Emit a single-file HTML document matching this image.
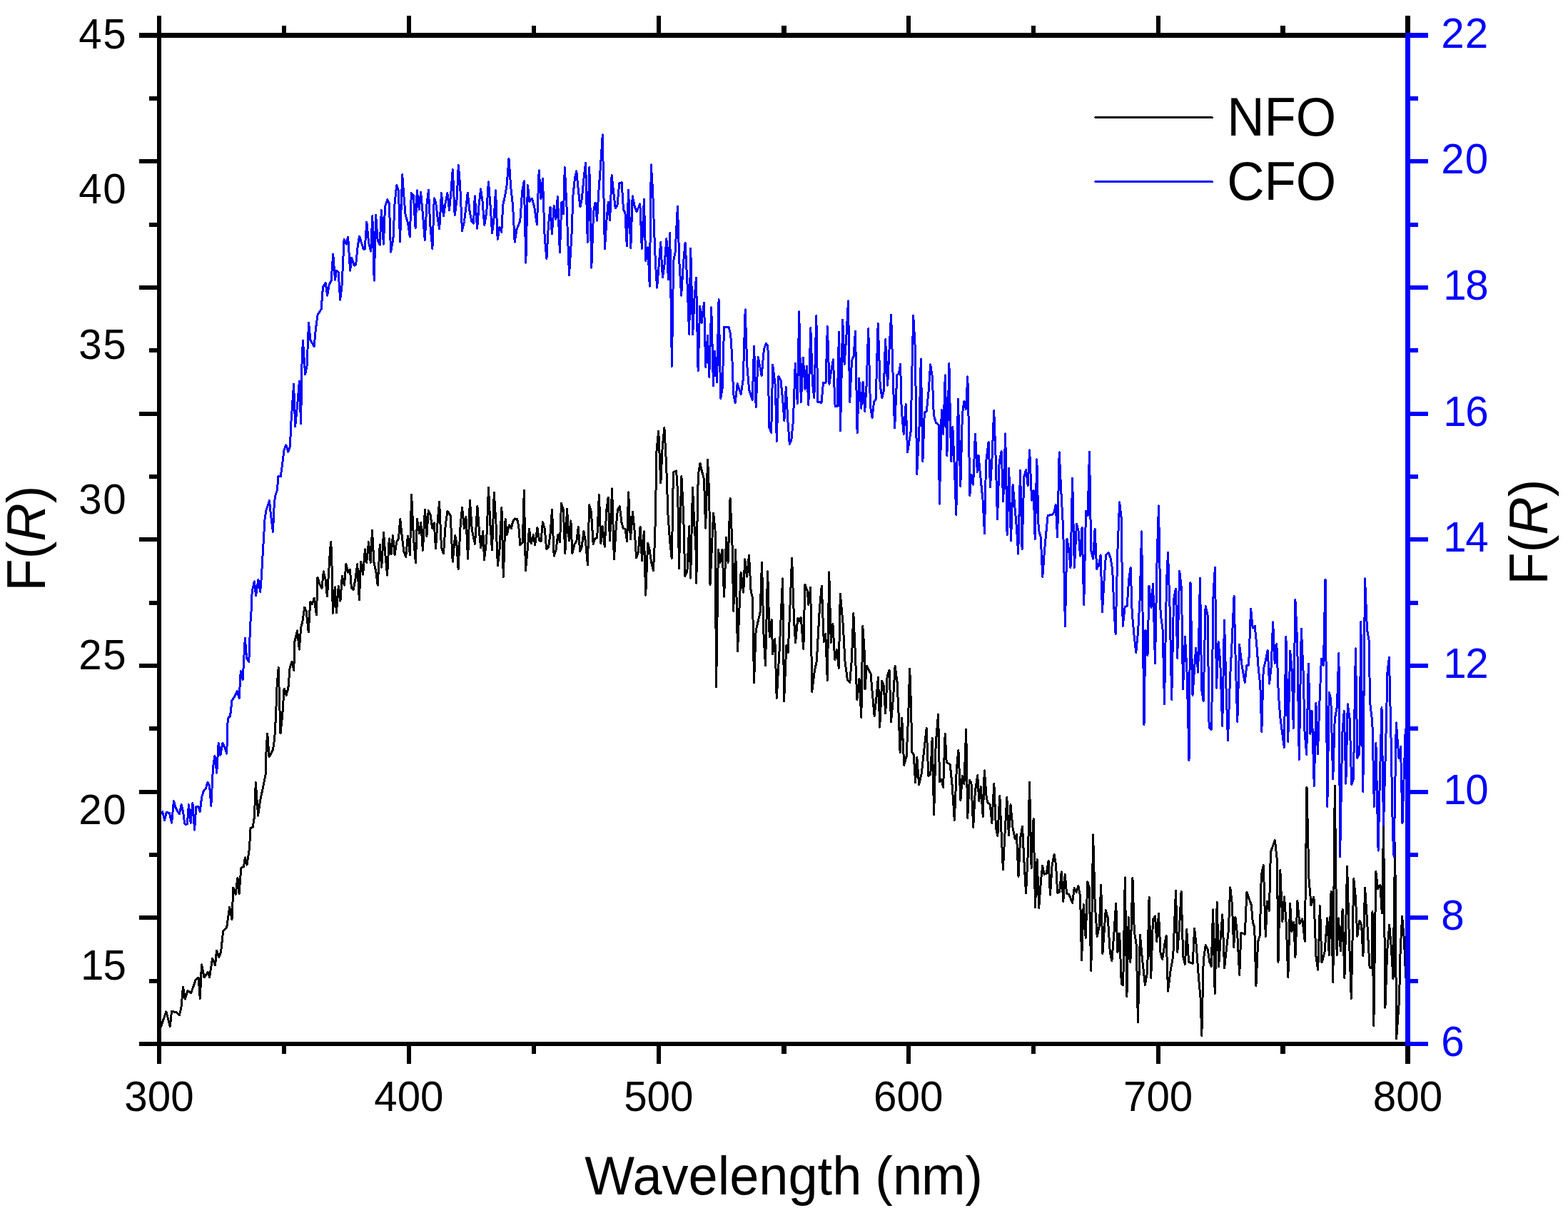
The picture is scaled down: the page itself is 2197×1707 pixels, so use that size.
<!DOCTYPE html>
<html lang="en">
<head>
<meta charset="utf-8">
<title>F(R) vs Wavelength</title>
<style>
html,body{margin:0;padding:0;background:#fff;}
body{width:2197px;height:1707px;overflow:hidden;}
svg{display:block;}
</style>
</head>
<body>
<svg width="2197" height="1707" viewBox="0 0 2197 1707" role="img" aria-label="F(R) versus wavelength for NFO and CFO">
<rect x="0" y="0" width="2197" height="1707" fill="#fff"/>
<polyline points="222.6,1447.1 232.8,1417.9 238.3,1438.5 240.5,1417.2 247.4,1419.0 251.4,1422.6 253.8,1413.0 256.5,1383.2 259.3,1400.2 262.9,1388.7 267.9,1391.6 273.9,1373.7 278.1,1370.0 280.3,1399.3 282.5,1351.8 286.1,1370.0 291.2,1362.7 293.6,1369.7 297.6,1343.2 301.6,1352.7 303.5,1332.1 306.8,1341.7 309.5,1334.4 312.8,1304.3 317.7,1299.7 321.7,1271.1 325.0,1288.8 326.8,1244.0 330.1,1253.2 332.9,1230.3 335.1,1252.8 337.8,1216.3 341.5,1214.8 343.3,1202.0 346.0,1212.1 349.3,1190.1 351.1,1160.9 351.0,1160.5 354.2,1159.5 356.4,1144.9 358.3,1096.5 361.6,1143.1 364.7,1121.2 368.3,1104.7 372.0,1086.5 373.2,1048.1 374.7,1028.0 377.1,1060.9 382.4,1050.9 384.7,1035.3 386.6,1002.5 387.9,964.1 390.2,935.8 393.0,1028.0 395.7,1002.5 398.1,965.0 401.2,974.2 403.9,964.1 406.1,935.8 409.0,927.2 411.8,939.5 412.7,899.8 416.6,884.0 419.3,910.1 421.7,879.2 423.7,872.3 425.1,862.7 426.8,851.0 429.2,857.2 432.3,886.0 434.7,843.5 437.5,846.9 440.2,838.0 443.4,862.0 445.0,809.1 447.8,818.7 450.9,824.9 453.3,800.9 456.0,811.9 458.4,835.9 460.8,799.5 462.5,770.7 463.8,759.7 465.2,798.1 466.3,859.3 469.3,822.9 471.4,858.6 474.3,821.5 476.9,842.1 479.4,807.1 482.4,820.1 484.9,790.6 487.6,802.3 490.4,798.1 492.4,824.2 495.2,826.3 497.9,811.9 500.7,790.6 503.4,840.7 505.5,787.1 508.6,805.0 511.4,770.0 513.7,788.5 516.5,759.7 519.2,788.5 521.5,743.5 524.0,788.5 526.8,800.9 529.2,820.1 532.3,763.1 534.7,795.1 537.5,746.6 539.8,776.2 542.6,806.1 545.3,754.9 548.0,776.8 550.4,750.7 553.1,777.5 555.6,759.7 558.4,754.9 560.8,727.4 563.2,751.4 565.9,773.4 568.7,780.3 571.4,751.2 574.4,777.5 576.6,693.5 579.6,755.5 582.4,788.5 584.5,727.4 587.5,747.3 589.7,732.5 592.4,771.3 595.4,714.3 597.9,751.4 600.2,715.7 603.0,721.2 605.7,740.4 608.2,732.9 610.5,768.6 613.0,732.9 615.6,703.6 618.5,767.9 621.5,775.5 624.3,734.9 627.0,716.4 631.2,722.6 634.2,787.1 637.6,750.7 639.7,759.7 642.1,797.4 645.2,735.6 647.6,711.3 650.4,740.4 652.9,724.6 655.6,783.3 658.4,701.3 661.4,743.2 665.5,762.4 668.9,709.5 671.7,747.3 673.7,767.9 676.8,744.6 678.5,784.4 681.7,757.6 684.5,683.4 686.8,733.6 689.5,770.4 692.3,690.3 695.0,734.3 697.4,792.6 700.1,769.3 702.9,711.6 705.3,808.4 708.1,727.4 710.3,749.6 713.5,735.9 716.5,740.7 718.5,731.0 721.3,726.9 724.5,727.2 726.8,737.9 728.8,764.0 732.3,760.6 734.3,687.1 736.4,799.7 739.1,770.9 741.5,741.3 744.2,762.0 747.4,749.6 749.7,763.7 752.9,739.3 755.6,757.1 758.0,758.8 760.4,731.7 763.2,740.7 765.7,769.5 768.7,766.8 771.2,746.2 773.5,714.6 776.2,779.1 779.0,770.9 781.7,749.6 784.5,759.9 786.5,705.6 789.3,714.6 791.8,775.7 794.5,713.2 797.3,757.8 799.9,729.9 801.9,775.7 805.1,762.6 807.8,758.5 810.3,738.6 812.6,772.9 815.1,766.8 817.9,744.8 820.6,759.9 823.4,791.5 825.7,707.7 828.4,717.3 831.2,762.6 833.9,754.4 836.7,753.7 839.4,693.7 841.9,761.5 844.2,737.2 847.3,766.1 849.7,715.9 852.2,697.0 854.5,757.8 857.6,685.0 860.4,783.9 863.5,735.2 865.5,713.9 868.3,709.8 871.0,732.4 873.4,740.7 876.1,741.3 878.6,758.5 880.6,689.8 883.4,755.5 886.5,717.3 889.3,746.2 891.6,781.9 894.4,773.6 897.1,737.9 899.5,786.0 902.3,744.8 904.7,834.1 907.7,761.3 910.2,770.9 912.6,788.7 915.4,799.7 917.7,754.4 919.1,683.0 919.2,639.9 922.7,604.2 925.8,677.0 928.2,626.2 930.9,599.4 933.7,653.7 936.0,722.4 938.5,756.7 941.2,782.8 942.6,716.9 943.3,661.9 947.4,659.9 948.8,674.3 950.1,714.1 951.5,796.5 953.6,708.6 954.9,667.4 957.7,722.4 959.8,807.5 962.9,800.7 965.7,737.5 967.6,810.3 970.5,683.6 972.8,734.7 974.9,763.6 975.8,817.1 976.9,736.1 978.3,664.7 981.0,649.6 983.8,661.9 986.5,671.5 988.6,740.2 991.6,644.1 993.4,686.6 994.8,755.3 995.0,819.2 999.6,719.1 1002.0,742.1 1003.6,962.5 1006.4,770.1 1009.0,788.2 1012.0,770.1 1014.6,836.3 1017.6,753.1 1020.1,788.2 1023.1,698.0 1026.1,766.1 1027.7,856.3 1030.7,770.1 1033.5,912.4 1038.1,802.2 1041.7,830.3 1043.7,783.8 1046.5,808.2 1049.5,778.2 1052.1,828.2 1054.5,838.3 1056.5,956.5 1059.1,884.3 1065.1,858.3 1067.5,788.2 1070.1,892.4 1072.5,932.4 1075.6,800.8 1078.2,892.4 1081.2,868.3 1082.6,916.4 1085.8,895.4 1088.2,978.5 1092.2,910.4 1096.6,810.8 1098.6,982.5 1101.8,904.4 1104.2,914.4 1106.6,858.3 1109.6,782.2 1112.6,870.3 1114.6,900.4 1117.8,866.3 1120.2,870.3 1122.2,865.3 1125.8,909.4 1127.8,819.2 1131.3,828.2 1132.9,847.3 1135.7,823.2 1137.7,969.5 1141.3,940.5 1144.3,926.4 1148.3,854.3 1151.3,821.2 1154.3,899.4 1156.7,888.4 1159.3,953.5 1161.7,801.8 1164.3,900.4 1166.9,874.3 1169.7,924.4 1172.3,910.4 1175.3,936.4 1177.3,832.3 1181.3,876.3 1183.9,926.4 1187.4,952.5 1190.8,956.5 1193.4,924.4 1195.8,859.3 1198.4,916.4 1200.8,980.5 1204.0,951.5 1206.8,1005.6 1208.8,877.3 1211.0,910.0 1212.0,966.1 1214.4,933.1 1220.0,944.1 1223.1,980.2 1225.1,1003.2 1228.1,976.2 1230.5,949.1 1232.7,1019.2 1235.7,954.1 1238.1,960.1 1240.7,999.8 1243.1,948.1 1246.1,939.1 1248.5,1011.8 1251.7,976.2 1254.1,933.1 1257.1,956.1 1259.5,1010.2 1261.1,1054.7 1263.7,1006.2 1266.7,1072.3 1270.1,1060.3 1272.7,1002.2 1274.7,937.1 1276.7,994.2 1277.7,1054.3 1280.2,1057.3 1282.6,1096.4 1284.8,1061.3 1287.6,1099.4 1291.2,1084.3 1294.2,1056.3 1298.2,1020.2 1300.8,1087.4 1303.8,1085.4 1306.2,1034.3 1308.6,1141.5 1311.2,1042.3 1314.6,1001.2 1316.6,1095.4 1319.2,1092.4 1321.6,1103.4 1324.2,1028.2 1326.2,1068.3 1331.2,1071.3 1334.3,1102.4 1337.3,1149.5 1340.3,1078.3 1342.9,1051.3 1345.9,1121.4 1348.3,1087.4 1350.9,1098.4 1353.7,1022.2 1355.7,1146.5 1358.3,1093.4 1360.9,1096.4 1363.7,1159.5 1366.3,1109.4 1369.7,1086.4 1371.7,1122.4 1374.3,1102.4 1377.3,1144.5 1379.3,1079.9 1382.3,1118.4 1384.3,1125.4 1387.3,1127.4 1389.8,1153.5 1392.8,1098.4 1395.4,1159.5 1397.8,1171.5 1400.8,1115.4 1403.4,1174.5 1405.4,1218.6 1407.8,1171.5 1410.8,1117.4 1413.4,1170.5 1416.0,1127.7 1419.0,1160.2 1422.0,1175.2 1424.4,1169.2 1427.0,1228.3 1429.7,1174.2 1432.5,1158.2 1435.1,1210.3 1437.5,1251.9 1440.7,1188.2 1442.5,1096.1 1445.1,1216.3 1448.1,1147.2 1450.5,1271.4 1453.1,1204.3 1455.7,1272.4 1458.5,1234.3 1460.7,1213.3 1463.1,1225.3 1466.1,1224.3 1469.1,1206.3 1471.5,1254.3 1474.1,1212.3 1477.1,1197.2 1479.5,1212.3 1481.7,1251.3 1484.6,1250.3 1487.2,1221.9 1489.8,1263.4 1492.2,1225.3 1494.6,1252.3 1497.6,1253.3 1502.6,1265.4 1505.2,1244.3 1508.2,1250.3 1510.8,1241.3 1513.6,1256.4 1515.6,1345.5 1518.2,1267.4 1521.2,1314.5 1523.8,1235.9 1526.2,1244.3 1528.8,1360.5 1531.6,1169.8 1534.2,1266.4 1537.2,1312.5 1540.3,1298.4 1542.7,1240.3 1544.9,1336.5 1549.3,1275.4 1552.3,1286.4 1555.3,1334.5 1557.9,1346.5 1560.7,1310.5 1563.7,1266.4 1565.9,1334.5 1568.7,1308.4 1571.3,1378.6 1573.7,1380.6 1576.3,1229.9 1578.9,1396.6 1581.3,1285.4 1583.9,1348.5 1586.9,1229.9 1589.3,1305.4 1592.3,1324.5 1594.4,1432.5 1597.4,1310.3 1600.0,1339.4 1604.4,1380.5 1607.6,1362.4 1610.1,1257.2 1612.7,1370.4 1615.5,1288.3 1618.5,1283.9 1620.7,1319.3 1623.5,1280.3 1626.1,1336.4 1628.7,1344.4 1631.5,1325.4 1634.1,1311.3 1636.5,1389.1 1640.1,1360.4 1643.7,1340.4 1647.5,1248.2 1649.7,1334.4 1652.5,1300.3 1655.1,1249.8 1657.7,1340.4 1660.5,1351.4 1662.7,1302.7 1665.6,1348.4 1671.2,1350.4 1673.6,1301.3 1676.2,1324.3 1679.2,1366.4 1682.2,1400.5 1683.8,1451.6 1686.2,1346.4 1689.2,1324.3 1692.2,1330.4 1694.6,1347.4 1697.2,1354.4 1699.6,1274.7 1702.2,1392.9 1705.2,1264.6 1707.6,1354.4 1710.2,1314.3 1712.8,1281.9 1715.6,1356.8 1718.6,1328.4 1721.3,1304.3 1723.7,1243.8 1726.3,1266.2 1728.7,1327.4 1730.9,1285.3 1733.9,1312.3 1736.7,1366.4 1738.9,1307.3 1744.3,1309.3 1746.9,1250.2 1750.3,1260.2 1753.3,1268.2 1755.3,1292.3 1757.7,1299.3 1759.9,1381.5 1762.7,1319.3 1765.3,1311.3 1767.3,1226.2 1770.3,1212.5 1773.3,1312.3 1775.4,1263.2 1778.4,1276.3 1780.4,1194.1 1786.4,1177.7 1789.4,1206.1 1791.0,1348.4 1793.8,1219.2 1796.8,1291.3 1799.5,1257.0 1802.3,1296.1 1804.8,1369.7 1807.6,1266.2 1809.9,1305.3 1812.9,1292.6 1814.9,1342.1 1817.9,1262.8 1820.9,1294.9 1824.8,1288.0 1828.3,1319.1 1831.0,1103.0 1834.0,1231.7 1837.0,1268.5 1840.9,1257.0 1843.9,1339.8 1846.7,1359.3 1849.4,1269.7 1852.0,1349.0 1855.9,1335.2 1859.8,1286.9 1862.3,1338.6 1865.1,1249.0 1867.8,1376.6 1870.3,1101.1 1873.1,1338.6 1875.4,1286.9 1878.4,1332.9 1881.1,1274.3 1883.9,1370.8 1887.6,1214.5 1890.3,1312.2 1893.3,1399.5 1896.8,1231.7 1899.5,1259.3 1901.8,1312.2 1904.8,1290.3 1907.6,1296.1 1909.9,1339.8 1912.6,1244.4 1915.6,1291.5 1919.1,1355.9 1922.1,1357.0 1923.0,1277.7 1924.8,1437.5 1927.8,1221.4 1930.6,1245.5 1934.0,1240.9 1936.3,1280.0 1938.6,1158.2 1940.9,1412.2 1943.7,1332.9 1946.7,1296.1 1949.7,1332.9 1952.0,1372.0 1954.7,1181.1 1956.6,1455.9 1960.5,1401.8 1962.1,1332.9 1964.6,1284.6 1967.4,1316.8 1969.7,1369.7" fill="none" stroke="#000" stroke-width="3" stroke-linejoin="round" stroke-linecap="round" shape-rendering="crispEdges"/>
<polyline points="224.0,1142.2 227.7,1137.6 230.6,1149.5 233.2,1138.5 237.4,1139.5 240.6,1153.2 243.4,1122.6 246.5,1133.1 251.4,1140.9 254.2,1127.6 256.5,1137.6 258.9,1155.0 262.4,1155.0 264.4,1127.6 267.1,1153.2 269.9,1125.4 272.6,1163.2 274.8,1130.3 278.1,1130.7 280.3,1137.3 282.6,1117.5 285.4,1108.4 288.5,1104.7 290.9,1096.5 293.6,1101.1 295.8,1129.4 298.5,1075.5 300.9,1059.1 303.7,1083.2 306.2,1041.2 308.9,1058.2 311.9,1041.4 315.0,1048.1 317.7,1056.3 319.2,1007.0 322.6,1003.4 325.0,981.5 329.0,976.0 332.3,968.7 335.1,978.4 337.3,940.4 340.2,952.2 343.3,894.3 345.7,923.0 348.8,927.6 350.6,876.4 351.9,859.5 353.2,828.5 356.4,814.8 358.6,834.9 361.9,812.1 364.7,829.4 366.5,806.6 367.8,782.8 369.2,759.1 371.1,726.2 372.9,715.3 377.4,701.6 379.8,724.4 382.4,745.4 384.4,704.3 385.7,695.2 388.4,686.9 389.9,667.8 393.3,667.8 395.7,649.5 398.1,630.3 400.8,623.9 403.9,633.1 406.1,626.7 407.6,602.9 408.0,590.5 409.4,570.5 411.6,538.4 413.6,597.6 416.4,570.5 419.4,534.4 421.6,593.5 423.0,510.4 424.4,477.3 427.6,524.4 430.1,512.4 432.5,452.3 435.1,477.3 440.1,485.4 442.5,460.3 445.1,441.3 450.1,433.3 452.5,402.2 456.1,396.2 458.7,414.2 461.1,399.2 464.1,393.2 466.7,356.1 469.5,392.2 471.5,379.2 474.1,381.2 476.7,420.2 479.1,399.2 480.7,366.1 482.1,335.1 485.2,342.1 487.6,332.1 490.6,379.2 492.6,361.1 496.2,372.1 498.6,371.1 501.2,345.1 503.6,331.1 509.2,349.1 511.2,349.1 513.8,311.0 516.6,340.1 519.6,352.1 521.8,302.4 524.2,393.2 526.6,301.0 529.2,337.1 532.2,343.1 534.4,294.7 537.4,342.1 539.5,289.9 542.7,279.6 545.4,285.1 547.5,353.1 550.9,335.2 553.0,285.8 555.7,259.7 558.5,267.9 560.5,338.7 563.7,244.6 566.0,276.2 568.1,300.9 571.5,312.6 574.3,331.8 576.3,270.7 579.3,273.4 582.1,319.8 584.3,266.8 587.3,293.3 589.6,269.6 592.1,296.8 595.3,336.6 598.0,285.8 600.4,266.5 602.8,316.0 605.9,348.7 608.3,277.8 610.7,284.4 613.4,307.1 615.7,320.8 618.5,270.7 621.4,302.9 624.1,284.4 626.9,270.7 629.5,294.7 632.0,267.9 634.3,237.7 637.2,301.8 640.2,278.9 642.3,231.5 644.7,261.0 647.5,323.5 650.5,310.5 653.0,289.9 655.3,270.0 658.0,295.4 660.8,310.5 663.5,313.0 665.3,274.8 668.6,320.1 671.1,287.1 673.6,264.8 675.9,281.0 678.7,315.3 681.8,296.8 684.4,254.9 686.9,285.8 689.6,327.0 692.4,302.3 694.5,266.8 697.2,335.9 699.9,318.0 702.7,325.6 704.8,287.1 707.5,274.8 710.2,259.0 713.0,222.6 715.7,262.4 718.5,287.1 721.2,339.1 724.0,321.5 728.8,309.8 731.5,269.3 734.3,253.8 736.8,368.2 739.4,259.7 741.8,282.3 745.3,278.2 748.7,289.9 752.4,314.9 755.2,238.8 757.9,278.9 760.4,250.1 763.1,331.1 765.9,363.0 768.4,316.0 771.0,289.9 773.4,327.7 776.2,288.8 778.9,307.1 781.4,275.7 784.4,353.8 786.9,283.0 789.5,299.5 791.3,234.7 794.0,289.9 797.5,385.4 800.9,331.1 803.0,273.4 805.4,250.1 807.8,239.8 810.2,265.2 812.9,289.9 815.3,278.9 818.1,248.7 820.6,228.1 823.3,339.3 825.8,234.3 828.8,375.1 831.6,296.8 834.0,284.4 836.5,309.1 838.8,269.3 841.3,234.9 844.3,188.9 847.4,349.0 849.8,310.5 852.3,283.0 854.6,308.4 857.1,245.7 859.7,269.3 862.2,292.0 864.9,288.5 867.7,256.9 871.1,255.5 873.5,293.3 875.9,298.1 878.3,344.8 880.5,266.5 883.8,347.6 886.2,274.8 889.0,288.5 892.0,296.8 896.8,285.8 899.3,348.3 902.4,279.6 904.8,365.4 907.9,346.9 910.3,401.2 912.3,230.8 914.7,269.3 916.5,320.1 918.5,369.6 920.6,403.2 923.3,370.9 925.7,339.6 928.4,388.8 930.9,372.3 933.9,334.5 936.4,391.5 938.7,326.7 941.4,513.3 943.6,366.1 946.0,354.1 949.4,289.5 952.0,370.1 954.6,414.2 957.4,370.1 960.1,340.0 963.1,400.1 965.7,468.3 967.7,348.1 970.7,468.7 973.1,416.2 975.5,389.1 978.1,519.4 980.7,429.2 983.1,452.2 986.5,424.2 988.7,514.3 991.5,470.3 993.7,528.4 996.7,430.8 999.5,540.4 1001.5,492.3 1004.5,535.4 1007.1,419.8 1009.7,558.4 1012.1,544.4 1014.6,458.2 1021.2,458.6 1023.6,468.3 1025.8,500.3 1027.6,552.4 1030.2,564.4 1033.2,537.4 1038.2,552.4 1041.2,532.4 1044.2,433.8 1046.8,512.3 1049.6,546.4 1054.2,560.4 1056.6,485.3 1059.2,570.5 1062.2,500.3 1067.2,526.4 1070.3,490.3 1073.3,481.3 1075.9,484.3 1077.7,598.5 1080.7,606.5 1082.7,511.3 1086.3,540.4 1088.3,618.5 1090.9,527.4 1093.9,532.4 1096.7,560.4 1098.9,589.5 1101.3,542.4 1103.9,590.5 1106.3,622.5 1108.9,616.5 1111.3,590.5 1112.7,554.4 1114.3,509.3 1117.3,565.4 1119.7,436.8 1122.3,563.4 1125.4,501.3 1128.0,545.4 1130.4,513.3 1132.8,567.4 1135.8,459.3 1138.4,536.4 1140.8,557.4 1143.8,442.6 1145.8,563.4 1146.0,563.3 1151.0,564.3 1153.6,536.2 1157.0,536.2 1159.4,457.7 1162.0,538.2 1164.6,520.2 1167.4,503.8 1170.1,569.3 1173.1,569.3 1175.5,465.1 1177.5,603.4 1180.7,448.1 1183.1,510.2 1185.7,475.1 1188.5,422.0 1190.7,563.3 1193.5,505.2 1196.1,499.2 1198.5,464.1 1201.1,606.4 1203.7,530.2 1206.7,572.3 1209.1,535.2 1211.7,576.3 1214.1,540.3 1216.7,460.7 1219.5,570.3 1222.1,585.3 1224.6,563.3 1227.2,559.3 1230.2,453.1 1233.2,540.3 1235.8,557.3 1238.2,548.3 1240.6,475.7 1243.6,540.3 1246.2,486.2 1248.6,441.1 1251.2,528.2 1253.6,600.0 1256.8,526.2 1259.6,522.2 1261.6,510.2 1263.2,574.3 1266.2,608.4 1269.2,566.3 1271.6,633.4 1276.2,604.4 1277.6,530.2 1279.7,442.1 1282.3,488.2 1284.7,664.5 1287.9,602.4 1290.3,503.2 1292.9,646.4 1295.3,578.3 1298.3,576.3 1300.9,550.3 1303.7,510.8 1306.3,528.2 1308.3,581.3 1311.3,592.3 1315.3,595.4 1316.3,706.2 1319.3,574.3 1321.7,608.4 1324.3,525.8 1326.9,638.4 1329.9,509.8 1332.7,646.4 1334.8,598.4 1337.4,656.5 1339.8,721.6 1342.4,559.3 1345.8,681.5 1348.4,580.3 1350.8,562.3 1353.4,573.3 1355.8,527.8 1357.4,600.4 1358.8,694.5 1361.0,665.3 1363.6,679.3 1366.4,608.2 1369.4,661.3 1371.0,638.2 1374.0,670.3 1377.0,700.3 1379.5,747.4 1381.5,648.2 1385.1,619.8 1387.5,682.7 1390.1,640.2 1392.7,575.7 1395.1,640.2 1397.5,727.4 1400.1,648.2 1403.1,632.2 1405.7,702.7 1408.7,607.8 1411.1,750.0 1413.7,656.2 1416.5,757.4 1419.1,678.9 1421.7,708.3 1424.5,740.4 1426.7,776.1 1429.5,659.3 1432.1,770.1 1434.8,668.3 1437.6,658.6 1440.2,680.3 1442.6,630.8 1445.6,701.3 1448.2,687.3 1450.2,755.4 1452.8,643.8 1455.2,742.4 1458.2,752.4 1460.8,808.5 1463.6,770.5 1466.2,742.4 1468.2,722.4 1474.2,721.4 1477.2,717.4 1479.2,707.3 1481.6,752.8 1484.2,633.8 1487.2,696.3 1489.7,741.4 1490.9,796.5 1492.4,877.5 1495.0,755.3 1497.6,770.3 1500.0,795.4 1502.6,670.1 1505.4,795.4 1508.5,734.2 1511.1,744.3 1513.5,779.3 1516.1,739.3 1518.7,847.4 1521.5,716.2 1524.1,722.2 1526.5,633.1 1528.7,771.3 1531.7,783.3 1534.1,741.3 1536.7,797.4 1539.5,792.3 1542.1,777.9 1544.5,857.5 1547.1,812.4 1549.5,778.3 1553.1,774.3 1556.1,782.3 1558.7,798.4 1561.1,856.5 1563.1,888.5 1565.8,774.3 1568.6,703.8 1571.2,726.2 1573.2,877.5 1576.2,850.5 1579.2,849.4 1581.6,813.4 1584.2,795.4 1586.2,858.5 1589.2,892.5 1591.8,914.6 1594.6,884.5 1597.2,838.4 1599.6,744.7 1603.0,1015.6 1605.0,883.3 1608.0,918.4 1610.0,821.2 1613.0,851.3 1615.6,818.2 1618.5,929.4 1621.1,784.2 1623.5,709.0 1626.1,860.3 1629.1,882.3 1631.5,986.5 1634.5,816.2 1636.5,774.5 1639.1,852.3 1641.7,980.5 1644.5,840.3 1647.5,825.2 1649.7,922.4 1652.7,800.2 1655.5,825.2 1657.5,965.5 1660.5,892.3 1663.1,943.4 1665.1,1024.6 1666.0,1065.5 1668.0,816.1 1671.0,974.3 1675.6,908.2 1678.7,942.3 1681.5,810.5 1683.7,966.3 1686.1,982.4 1689.1,849.1 1692.1,862.1 1694.1,1019.4 1697.5,1022.4 1700.1,830.1 1702.5,795.6 1704.5,964.3 1707.1,899.2 1709.7,926.3 1712.7,1017.4 1715.5,869.2 1718.1,968.3 1720.5,1037.5 1723.5,951.3 1726.1,900.2 1729.1,835.1 1731.5,938.3 1733.8,1011.4 1736.6,903.2 1740.2,933.3 1744.2,956.3 1746.8,932.7 1749.6,932.3 1752.6,853.1 1755.2,880.2 1758.2,877.2 1760.8,904.2 1763.2,936.3 1765.8,960.3 1767.8,1025.4 1770.2,938.3 1773.2,926.3 1776.2,911.2 1778.6,958.3 1781.2,934.3 1783.6,871.8 1786.2,929.3 1788.8,902.2 1791.3,972.3 1793.9,1006.4 1799.3,1047.5 1801.9,892.2 1804.7,1039.5 1807.7,912.2 1810.3,940.3 1812.3,1020.4 1814.9,840.1 1817.7,900.2 1820.3,1064.5 1823.3,881.2 1826.3,946.3 1827.9,1023.4 1830.7,1057.5 1833.3,930.3 1835.9,1028.4 1838.3,996.4 1841.3,1101.6 1843.9,985.4 1846.4,1056.5 1849.0,982.4 1851.4,923.3 1854.4,932.3 1857.0,812.1 1859.8,1130.3 1862.3,970.7 1864.8,980.6 1867.7,1092.0 1870.2,1007.8 1873.4,990.5 1875.9,915.0 1877.6,1200.9 1880.8,1027.6 1883.3,996.7 1885.8,1098.2 1888.3,986.8 1891.2,1007.8 1893.7,1099.4 1896.4,1092.0 1899.4,908.8 1901.9,1062.3 1904.9,1056.1 1906.8,871.7 1909.8,1109.3 1912.5,811.0 1915.5,882.8 1918.0,896.4 1919.7,985.5 1922.9,1012.8 1925.4,1130.3 1927.9,1041.2 1931.1,1192.2 1933.6,1082.1 1936.0,991.7 1938.5,1156.3 1941.5,1049.9 1944.0,942.2 1946.4,921.2 1948.9,1027.6 1951.4,1166.2 1953.1,1200.9 1956.3,1012.8 1960.0,1062.3 1962.5,1046.2 1965.0,1153.9 1968.0,1062.3 1969.2,1022.7" fill="none" stroke="#0000ff" stroke-width="3" stroke-linejoin="round" stroke-linecap="round" shape-rendering="crispEdges"/>
<g shape-rendering="crispEdges">
<rect x="220" y="46" width="1756" height="7" fill="#000"/>
<rect x="220" y="1460" width="1756" height="6" fill="#000"/>
<rect x="220" y="22" width="6" height="1469" fill="#000"/>
<rect x="395" y="36" width="6" height="10" fill="#000"/>
<rect x="395" y="1466" width="6" height="11" fill="#000"/>
<rect x="570" y="22" width="6" height="24" fill="#000"/>
<rect x="570" y="1466" width="6" height="25" fill="#000"/>
<rect x="745" y="36" width="6" height="10" fill="#000"/>
<rect x="745" y="1466" width="6" height="11" fill="#000"/>
<rect x="920" y="22" width="6" height="24" fill="#000"/>
<rect x="920" y="1466" width="6" height="25" fill="#000"/>
<rect x="1095" y="36" width="7" height="10" fill="#000"/>
<rect x="1095" y="1466" width="7" height="11" fill="#000"/>
<rect x="1270" y="22" width="6" height="24" fill="#000"/>
<rect x="1270" y="1466" width="6" height="25" fill="#000"/>
<rect x="1445" y="36" width="6" height="10" fill="#000"/>
<rect x="1445" y="1466" width="6" height="11" fill="#000"/>
<rect x="1620" y="22" width="6" height="24" fill="#000"/>
<rect x="1620" y="1466" width="6" height="25" fill="#000"/>
<rect x="1794" y="36" width="7" height="10" fill="#000"/>
<rect x="1794" y="1466" width="7" height="11" fill="#000"/>
<rect x="1969" y="22" width="7" height="24" fill="#000"/>
<rect x="1969" y="1466" width="7" height="25" fill="#000"/>
<rect x="195" y="46" width="25" height="7" fill="#000"/>
<rect x="209" y="135" width="11" height="6" fill="#000"/>
<rect x="195" y="223" width="25" height="6" fill="#000"/>
<rect x="209" y="312" width="11" height="6" fill="#000"/>
<rect x="195" y="400" width="25" height="6" fill="#000"/>
<rect x="209" y="488" width="11" height="6" fill="#000"/>
<rect x="195" y="577" width="25" height="6" fill="#000"/>
<rect x="209" y="665" width="11" height="6" fill="#000"/>
<rect x="195" y="753" width="25" height="6" fill="#000"/>
<rect x="209" y="842" width="11" height="6" fill="#000"/>
<rect x="195" y="930" width="25" height="6" fill="#000"/>
<rect x="209" y="1018" width="11" height="6" fill="#000"/>
<rect x="195" y="1107" width="25" height="6" fill="#000"/>
<rect x="209" y="1195" width="11" height="6" fill="#000"/>
<rect x="195" y="1283" width="25" height="6" fill="#000"/>
<rect x="209" y="1372" width="11" height="6" fill="#000"/>
<rect x="195" y="1460" width="25" height="6" fill="#000"/>
<rect x="1969" y="46" width="7" height="1420" fill="#0000ff"/>
<rect x="1976" y="46" width="25" height="7" fill="#0000ff"/>
<rect x="1976" y="135" width="11" height="6" fill="#0000ff"/>
<rect x="1976" y="223" width="25" height="6" fill="#0000ff"/>
<rect x="1976" y="312" width="11" height="6" fill="#0000ff"/>
<rect x="1976" y="400" width="25" height="6" fill="#0000ff"/>
<rect x="1976" y="488" width="11" height="6" fill="#0000ff"/>
<rect x="1976" y="577" width="25" height="6" fill="#0000ff"/>
<rect x="1976" y="665" width="11" height="6" fill="#0000ff"/>
<rect x="1976" y="753" width="25" height="6" fill="#0000ff"/>
<rect x="1976" y="842" width="11" height="6" fill="#0000ff"/>
<rect x="1976" y="930" width="25" height="6" fill="#0000ff"/>
<rect x="1976" y="1018" width="11" height="6" fill="#0000ff"/>
<rect x="1976" y="1107" width="25" height="6" fill="#0000ff"/>
<rect x="1976" y="1195" width="11" height="6" fill="#0000ff"/>
<rect x="1976" y="1283" width="25" height="6" fill="#0000ff"/>
<rect x="1976" y="1372" width="11" height="6" fill="#0000ff"/>
<rect x="1976" y="1460" width="25" height="6" fill="#0000ff"/>
</g>
<g font-family="'Liberation Sans', Arial, Helvetica, sans-serif">
<text x="223.0" y="1556.6" font-size="58.3" text-anchor="middle">300</text>
<text x="572.9" y="1556.6" font-size="58.3" text-anchor="middle">400</text>
<text x="922.8" y="1556.6" font-size="58.3" text-anchor="middle">500</text>
<text x="1272.7" y="1556.6" font-size="58.3" text-anchor="middle">600</text>
<text x="1622.6" y="1556.6" font-size="58.3" text-anchor="middle">700</text>
<text x="1972.5" y="1556.6" font-size="58.3" text-anchor="middle">800</text>
<text x="178.2" y="67.7" font-size="58.3" text-anchor="end" letter-spacing="1.5">45</text>
<text x="178.2" y="285.2" font-size="58.3" text-anchor="end" letter-spacing="1.5">40</text>
<text x="178.2" y="502.7" font-size="58.3" text-anchor="end" letter-spacing="1.5">35</text>
<text x="178.2" y="720.2" font-size="58.3" text-anchor="end" letter-spacing="1.5">30</text>
<text x="178.2" y="937.7" font-size="58.3" text-anchor="end" letter-spacing="1.5">25</text>
<text x="178.2" y="1155.2" font-size="58.3" text-anchor="end" letter-spacing="1.5">20</text>
<text x="175.4" y="1372.7" dx="3 -2.5" font-size="58.3" text-anchor="end" letter-spacing="1.5">15</text>
<text x="2019.3" y="66.6" font-size="58.3" fill="#0000ff" letter-spacing="1.1">22</text>
<text x="2019.3" y="243.3" font-size="58.3" fill="#0000ff" letter-spacing="1.1">20</text>
<text x="2019.3" y="420.0" dx="3 -2.5" font-size="58.3" fill="#0000ff" letter-spacing="1.1">18</text>
<text x="2019.3" y="596.7" dx="3 -2.5" font-size="58.3" fill="#0000ff" letter-spacing="1.1">16</text>
<text x="2019.3" y="773.4" dx="3 -2.5" font-size="58.3" fill="#0000ff" letter-spacing="1.1">14</text>
<text x="2019.3" y="950.0" dx="3 -2.5" font-size="58.3" fill="#0000ff" letter-spacing="1.1">12</text>
<text x="2019.3" y="1126.7" dx="3 -2.5" font-size="58.3" fill="#0000ff" letter-spacing="1.1">10</text>
<text x="2019.3" y="1303.4" font-size="58.3" fill="#0000ff" letter-spacing="1.1">8</text>
<text x="2019.3" y="1480.1" font-size="58.3" fill="#0000ff" letter-spacing="1.1">6</text>
<text transform="translate(819.3 1674) scale(1.0 1.03)" font-size="74">Wavelength <tspan dx="-1.5 -0.1 -1 -0.4">(nm)</tspan></text>
<text transform="translate(62.8 828.5) rotate(-90) scale(1.0 1.03)" font-size="74">F(<tspan font-style="italic">R</tspan>)</text>
<text transform="translate(2168.2 819.5) rotate(-90) scale(1.0 1.03)" font-size="74">F(<tspan font-style="italic">R</tspan>)</text>
<g shape-rendering="crispEdges">
<rect x="1534" y="163" width="165" height="3" fill="#000"/>
<rect x="1533" y="164" width="1" height="1" fill="#000"/>
<rect x="1699" y="164" width="1" height="2" fill="#000"/>
<rect x="1534" y="253" width="165" height="3" fill="#0000ff"/>
<rect x="1533" y="254" width="1" height="1" fill="#0000ff"/>
<rect x="1699" y="254" width="1" height="2" fill="#0000ff"/>
</g>
<text transform="translate(1719.2 190) scale(0.98 1.03)" font-size="74">NFO</text>
<text transform="translate(1719.2 280) scale(0.98 1.03)" font-size="74">CFO</text>
</g>
</svg>
</body>
</html>
